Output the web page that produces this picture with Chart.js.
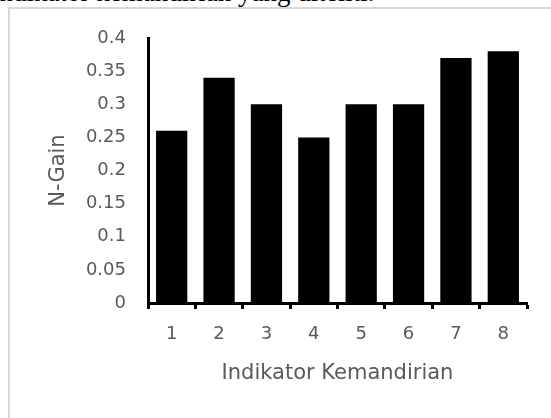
<!DOCTYPE html>
<html>
<head>
<meta charset="utf-8">
<script src="https://cdn.jsdelivr.net/npm/chart.js@4.4.1/dist/chart.umd.min.js"></script>
<style>
  body { margin: 0; background: #fff; width: 551px; height: 418px; overflow: hidden; position: relative; }
  #caption { position: absolute; left: -8px; top: -23px; font-family: "Liberation Serif", serif; font-size: 27px; color: #000; white-space: nowrap; }
  #frame { position: absolute; left: 8px; top: 7px; width: 600px; height: 500px; border: 2px solid #d9d9d9; }
  #chart { position: absolute; left: 0; top: 0; }
</style>
</head>
<body>
<div id="caption">indikator kemandirian yang diteliti.</div>
<div id="frame"></div>
<canvas id="chart" width="551" height="418"></canvas>
<script>
// data
const categories = ['1', '2', '3', '4', '5', '6', '7', '8'];
const nGain = [0.26, 0.34, 0.30, 0.25, 0.30, 0.30, 0.37, 0.38];
const yTicks = [0, 0.05, 0.1, 0.15, 0.2, 0.25, 0.3, 0.35, 0.4];

const labelColor = '#595959';
const fontFamily = '"DejaVu Sans", sans-serif';

const ctx = document.getElementById('chart').getContext('2d');
new Chart(ctx, {
    type: 'bar',
    data: {
        labels: categories,
        datasets: [{
            label: 'N-Gain',
            data: nGain,
            backgroundColor: '#000',
            borderWidth: 0,
            barPercentage: 0.66,
            categoryPercentage: 1
        }]
    },
    options: {
        responsive: false,
        animation: false,
        devicePixelRatio: 1,
        layout: { padding: { left: 0, right: 24, top: 38, bottom: 0 } },
        plugins: {
            legend: { display: false },
            tooltip: { enabled: false }
        },
        scales: {
            x: {
                afterFit: axis => { axis.height = 115; },
                grid: {
                    display: true,
                    drawOnChartArea: false,
                    drawTicks: true,
                    tickLength: 6,
                    tickWidth: 3,
                    tickColor: '#000',
                    offset: true
                },
                border: { display: true, color: '#000', width: 3 },
                ticks: { color: labelColor, font: { family: fontFamily, size: 18 }, padding: 15 },
                title: {
                    display: true,
                    text: 'Indikator Kemandirian',
                    color: labelColor,
                    font: { family: fontFamily, size: 21 },
                    padding: { top: 0, bottom: 32 }
                }
            },
            y: {
                min: 0,
                max: 0.4,
                afterFit: axis => { axis.width = 148; },
                afterBuildTicks: axis => { axis.ticks = yTicks.map(v => ({ value: v })); },
                grid: { display: false, drawTicks: false },
                border: { display: true, color: '#000', width: 3 },
                ticks: {
                    color: labelColor,
                    font: { family: fontFamily, size: 18 },
                    padding: 22,
                    callback: v => String(v)
                },
                title: {
                    display: true,
                    text: 'N-Gain',
                    color: labelColor,
                    font: { family: fontFamily, size: 21 },
                    padding: { top: 46, bottom: 0 }
                }
            }
        }
    }
});
</script>
</body>
</html>
